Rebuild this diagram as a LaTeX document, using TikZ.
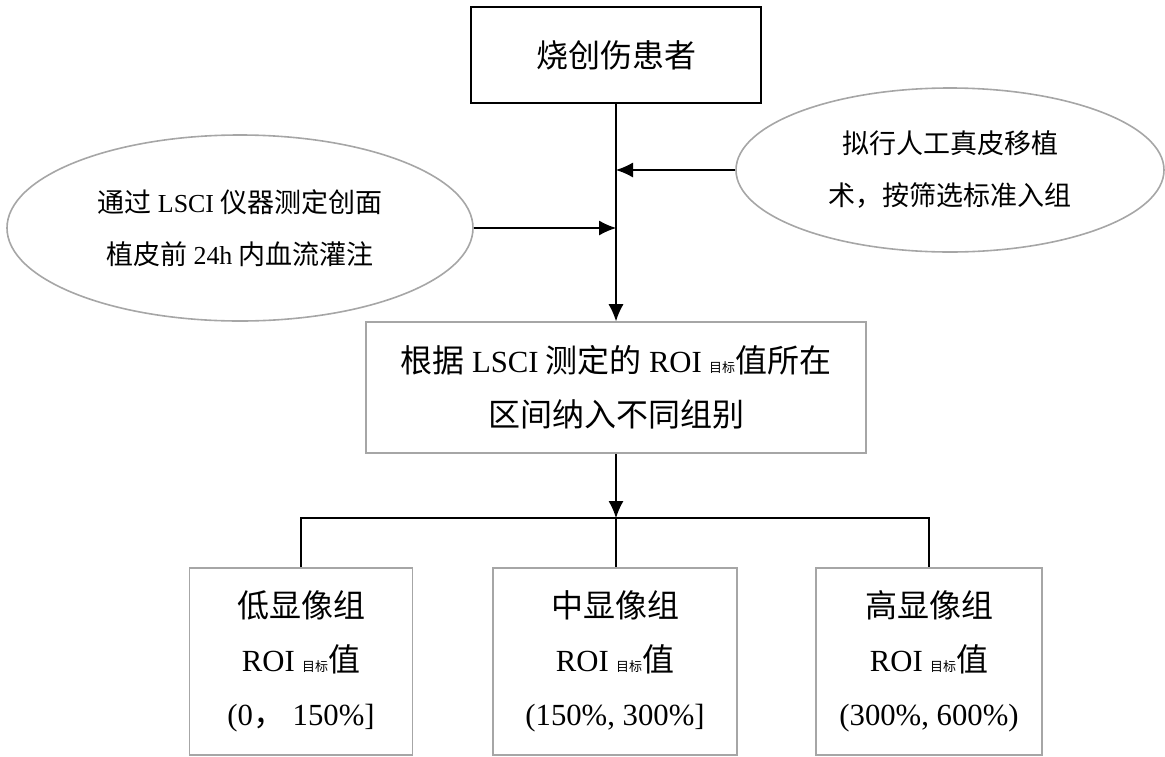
\documentclass[tikz,border=0pt]{standalone}
\usepackage{fontspec}
\setmainfont{Noto Sans CJK SC}
\newfontfamily\lat[Scale=0.96]{Liberation Serif}
\usepackage{tikz}
\usetikzlibrary{arrows.meta, shapes.geometric, calc}

\definecolor{rahmen}{RGB}{166,166,166}
\newcommand{\ziel}{{\fontsize{13}{13}\selectfont 目标}}

\tikzset{
	kasten/.style={draw=rahmen, line width=1.6pt, rectangle, inner sep=0pt, align=center, font=\fontsize{32}{54}\selectfont},
	oval/.style={draw=rahmen, line width=1.6pt, ellipse, inner sep=0pt, align=center, font=\fontsize{27}{52}\selectfont},
	pfeil/.style={-{Latex[length=17pt,width=15pt]}, line width=1.1pt},
	linie/.style={-, line width=1.1pt}
}

\begin{document}
\begin{tikzpicture}[x=1pt, y=-1pt]

	\useasboundingbox (0,0) rectangle (1165,756);

	\node[kasten, draw=black, line width=2.2pt, minimum width=290pt, minimum height=96pt](patient) at (616,55) {烧创伤患者};

	\node[oval, minimum width=466pt, minimum height=186pt](messung) at (240,228) {通过 {\lat LSCI} 仪器测定创面\\植皮前 {\lat 24h} 内血流灌注};
	\node[oval, minimum width=428pt, minimum height=164pt](auswahl) at (950,170) {拟行人工真皮移植\\术，按筛选标准入组};

	\node[kasten, minimum width=500pt, minimum height=131pt](gruppierung) at (616,387.5) {根据 {\lat LSCI} 测定的 {\lat ROI} \ziel 值所在\\区间纳入不同组别};

	\node[kasten, minimum width=223pt, minimum height=187pt](niedrig) at (301,661.5) {低显像组\\{\lat ROI} \ziel 值\\{\lat (0}，{\lat\ 150\%]}};
	\node[kasten, minimum width=244pt, minimum height=187pt](mittel) at (615,661.5) {中显像组\\{\lat ROI} \ziel 值\\{\lat (150\%, 300\%]}};
	\node[kasten, minimum width=226pt, minimum height=187pt](hoch) at (929,661.5) {高显像组\\{\lat ROI} \ziel 值\\{\lat (300\%, 600\%)}};

	\coordinate (teilung) at (616,518);

	% senkrechte Linie und Zufluesse
	\draw[pfeil](patient.south) -- (gruppierung.north);
	\draw[pfeil](auswahl.west) -- (patient.south |- auswahl.west);
	\draw[pfeil](messung.east) -- (patient.south |- messung.east);

	% Verzweigung
	\draw[pfeil](gruppierung.south) -- (teilung);
	\draw[linie](niedrig.north) |- (teilung) -| (hoch.north);
	\draw[linie](teilung) -- (teilung |- mittel.north);
\end{tikzpicture}
\end{document}
